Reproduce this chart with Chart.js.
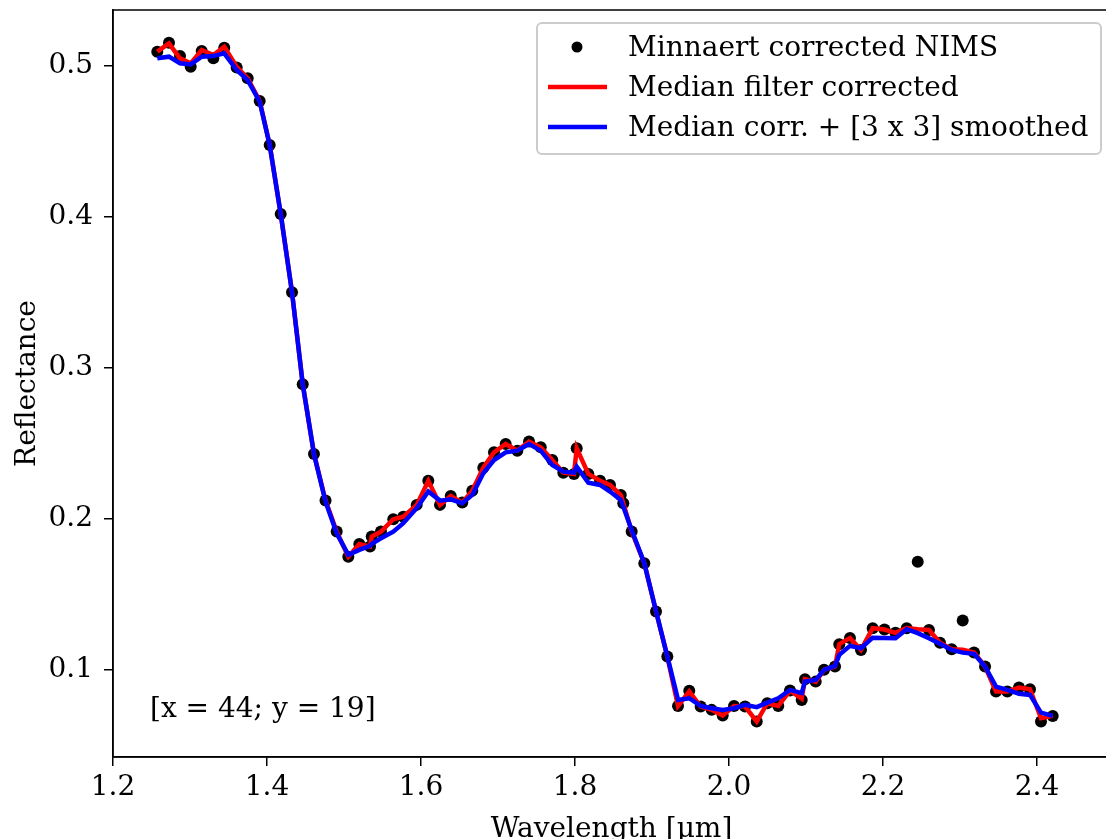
<!DOCTYPE html>
<html lang="en">
<head>
<meta charset="UTF-8">
<title>NIMS reflectance spectrum</title>
<style>
  html, body { margin: 0; padding: 0; background: #fff; overflow: hidden; }
  #wrap { width: 1106px; height: 839px; overflow: hidden; }
</style>
</head>
<body>
<div id="wrap"><canvas id="spec" width="1112" height="870"></canvas></div>
<script src="https://cdn.jsdelivr.net/npm/chart.js"></script>
<script>
// wavelength of each NIMS channel [um]
const wavelength = [
  1.2575, 1.2727, 1.2870, 1.3009, 1.3152, 1.3303, 1.3445, 1.3606, 1.3749, 1.3905,
  1.4035, 1.4178, 1.4325, 1.4464, 1.4610, 1.4760, 1.4905, 1.5056, 1.5199, 1.5338,
  1.5360, 1.5480, 1.5640, 1.5770, 1.5944, 1.6095, 1.6247, 1.6386, 1.6536, 1.6666,
  1.6809, 1.6948, 1.7100, 1.7251, 1.7403, 1.7555, 1.7705, 1.7848, 1.7987, 1.8022,
  1.8173, 1.8325, 1.8455, 1.8594, 1.8627, 1.8736, 1.8900, 1.9052, 1.9199, 1.9338,
  1.9484, 1.9632, 1.9775, 1.9918, 2.0065, 2.0208, 2.0360, 2.0497, 2.0640, 2.0792,
  2.0944, 2.0987, 2.1126, 2.1234, 2.1377, 2.1432, 2.1571, 2.1714, 2.1866, 2.2019,
  2.2162, 2.2308, 2.2451, 2.2597, 2.2740, 2.2892, 2.3035, 2.3182, 2.3325, 2.3468,
  2.3614, 2.3766, 2.3909, 2.4052, 2.4204
];

// Minnaert corrected NIMS reflectance (dots)
const minnaert = [
  0.5093, 0.5152, 0.5064, 0.4993, 0.5097, 0.5049, 0.5119, 0.4989, 0.4917, 0.4766,
  0.4475, 0.4019, 0.3500, 0.2892, 0.2430, 0.2122, 0.1916, 0.1750, 0.1834, 0.1817,
  0.1883, 0.1916, 0.1998, 0.2015, 0.2093, 0.2252, 0.2093, 0.2152, 0.2108, 0.2187,
  0.2339, 0.2441, 0.2496, 0.2452, 0.2512, 0.2474, 0.2390, 0.2306, 0.2298, 0.2468,
  0.2298, 0.2253, 0.2225, 0.2159, 0.2104, 0.1916, 0.1707, 0.1387, 0.1089, 0.0762,
  0.0863, 0.0758, 0.0736, 0.0698, 0.0762, 0.0758, 0.0659, 0.0780, 0.0762, 0.0864,
  0.0802, 0.0939, 0.0923, 0.1001, 0.1023, 0.1171, 0.1211, 0.1133, 0.1277, 0.1268,
  0.1246, 0.1277, 0.1717, 0.1265, 0.1181, 0.1138, 0.1327, 0.1115, 0.1023, 0.0857,
  0.0857, 0.0884, 0.0873, 0.0659, 0.0696
];

// median filter corrected (red)
const medianCorr = [
  0.5093, 0.5148, 0.5049, 0.5016, 0.5104, 0.5071, 0.5126, 0.4993, 0.4917, 0.4766,
  0.4475, 0.4019, 0.3500, 0.2892, 0.2430, 0.2122, 0.1916, 0.1750, 0.1834, 0.1817,
  0.1883, 0.1916, 0.1998, 0.2015, 0.2093, 0.2252, 0.2093, 0.2152, 0.2108, 0.2187,
  0.2339, 0.2441, 0.2496, 0.2452, 0.2512, 0.2474, 0.2390, 0.2306, 0.2298, 0.2468,
  0.2298, 0.2253, 0.2225, 0.2159, 0.2104, 0.1916, 0.1707, 0.1387, 0.1089, 0.0762,
  0.0858, 0.0758, 0.0736, 0.0698, 0.0762, 0.0758, 0.0659, 0.0780, 0.0762, 0.0864,
  0.0810, 0.0939, 0.0923, 0.1001, 0.1023, 0.1171, 0.1211, 0.1133, 0.1277, 0.1268,
  0.1246, 0.1277, 0.1270, 0.1265, 0.1181, 0.1138, 0.1134, 0.1115, 0.1023, 0.0857,
  0.0857, 0.0884, 0.0873, 0.0681, 0.0696
];

// median corrected + 3x3 smoothed (blue)
const smoothed = [
  0.5049, 0.5060, 0.5016, 0.5009, 0.5060, 0.5064, 0.5082, 0.4972, 0.4905, 0.4762,
  0.4475, 0.4019, 0.3500, 0.2892, 0.2430, 0.2115, 0.1905, 0.1762, 0.1795, 0.1821,
  0.1835, 0.1872, 0.1916, 0.1972, 0.2071, 0.2181, 0.2121, 0.2130, 0.2104, 0.2159,
  0.2302, 0.2390, 0.2441, 0.2452, 0.2496, 0.2452, 0.2357, 0.2313, 0.2306, 0.2346,
  0.2240, 0.2225, 0.2181, 0.2126, 0.2080, 0.1927, 0.1707, 0.1390, 0.1090, 0.0802,
  0.0813, 0.0762, 0.0747, 0.0736, 0.0747, 0.0769, 0.0754, 0.0784, 0.0813, 0.0868,
  0.0847, 0.0923, 0.0934, 0.1001, 0.1027, 0.1100, 0.1160, 0.1144, 0.1214, 0.1212,
  0.1210, 0.1270, 0.1244, 0.1210, 0.1173, 0.1133, 0.1115, 0.1107, 0.1023, 0.0890,
  0.0868, 0.0842, 0.0835, 0.0718, 0.0696
];

const xTicks = [1.2, 1.4, 1.6, 1.8, 2.0, 2.2, 2.4];
const yTicks = [0.1, 0.2, 0.3, 0.4, 0.5];
const seriesNames = ['Minnaert corrected NIMS', 'Median filter corrected', 'Median corr. + [3 x 3] smoothed'];
const pixelNote = '[x = 44; y = 19]';

const FONT = 'DejaVu Serif';
const FS = 28;
const pts = ys => wavelength.map((w, i) => ({ x: w, y: ys[i] }));

// axis boxes get fixed sizes, no extra label padding
function fixBox(size) {
  return function (s) {
    if (s.isHorizontal()) s.height = size; else s.width = size;
    s.paddingTop = s.paddingBottom = s.paddingLeft = s.paddingRight = 0;
  };
}

// box around the plot, legend and the pixel note
const decorations = {
  id: 'decorations',
  afterDraw(chart) {
    const c = chart.ctx;
    const a = chart.chartArea;
    c.save();
    c.strokeStyle = '#000';
    c.lineWidth = 1.5;
    c.strokeRect(a.left, a.top, a.right - a.left, a.bottom - a.top);

    c.font = FS + 'px "' + FONT + '"';
    c.fillStyle = '#000';
    c.textBaseline = 'alphabetic';
    c.textAlign = 'left';
    c.fillText(pixelNote, a.left + 37, 717);

    // legend
    const bx = 537, by = 23, bw = 564, bh = 131;
    c.beginPath();
    c.roundRect(bx, by, bw, bh, 5);
    c.fillStyle = 'rgba(255,255,255,0.8)';
    c.fill();
    c.strokeStyle = '#cccccc';
    c.lineWidth = 2;
    c.stroke();

    const rows = [47, 87, 127];
    c.fillStyle = '#000';
    c.beginPath();
    c.arc(577, rows[0], 5.5, 0, Math.PI * 2);
    c.fill();
    c.lineWidth = 4.5;
    c.strokeStyle = '#ff0000';
    c.beginPath(); c.moveTo(548, rows[1]); c.lineTo(607, rows[1]); c.stroke();
    c.strokeStyle = '#0000ff';
    c.beginPath(); c.moveTo(548, rows[2]); c.lineTo(607, rows[2]); c.stroke();

    c.fillStyle = '#000';
    seriesNames.forEach((s, i) => c.fillText(s, 628, rows[i] + 9));
    c.restore();
  }
};

new Chart(document.getElementById('spec').getContext('2d'), {
  type: 'line',
  data: {
    datasets: [
      {
        label: seriesNames[2], data: pts(smoothed), order: 1,
        borderColor: '#0000ff', borderWidth: 4.5, pointRadius: 0, tension: 0
      },
      {
        label: seriesNames[1], data: pts(medianCorr), order: 2,
        borderColor: '#ff0000', borderWidth: 4.5, pointRadius: 0, tension: 0
      },
      {
        label: seriesNames[0], data: pts(minnaert), order: 3,
        showLine: false, pointRadius: 6, pointBorderWidth: 0,
        pointBackgroundColor: '#000', backgroundColor: '#000'
      }
    ]
  },
  options: {
    responsive: false,
    animation: false,
    layout: { autoPadding: false, padding: { top: 10, left: 0, right: 2, bottom: 0 } },
    plugins: { legend: { display: false }, tooltip: { enabled: false } },
    scales: {
      x: {
        type: 'linear', min: 1.2, max: 2.4948,
        afterFit: fixBox(113),
        afterBuildTicks(s) { s.ticks = xTicks.map(v => ({ value: v })); },
        grid: { drawOnChartArea: false, drawTicks: true, tickLength: 9, color: '#000', lineWidth: 1.5 },
        border: { color: '#000', width: 1.5 },
        ticks: {
          font: { family: FONT, size: FS }, color: '#000', padding: 5, maxRotation: 0,
          callback: v => v.toFixed(1)
        },
        title: { display: true, text: 'Wavelength [µm]', font: { family: FONT, size: FS }, color: '#000', padding: { top: 4, bottom: 23 } }
      },
      y: {
        type: 'linear', min: 0.0424, max: 0.5369,
        afterFit: fixBox(113),
        afterBuildTicks(s) { s.ticks = yTicks.map(v => ({ value: v })); },
        grid: { drawOnChartArea: false, drawTicks: true, tickLength: 9, color: '#000', lineWidth: 1.5 },
        border: { color: '#000', width: 1.5 },
        ticks: {
          font: { family: FONT, size: FS }, color: '#000', padding: 11,
          callback: v => v.toFixed(1)
        },
        title: { display: true, text: 'Reflectance', font: { family: FONT, size: FS }, color: '#000', padding: { top: 11, bottom: 4 } }
      }
    }
  },
  plugins: [decorations]
});
</script>
</body>
</html>
